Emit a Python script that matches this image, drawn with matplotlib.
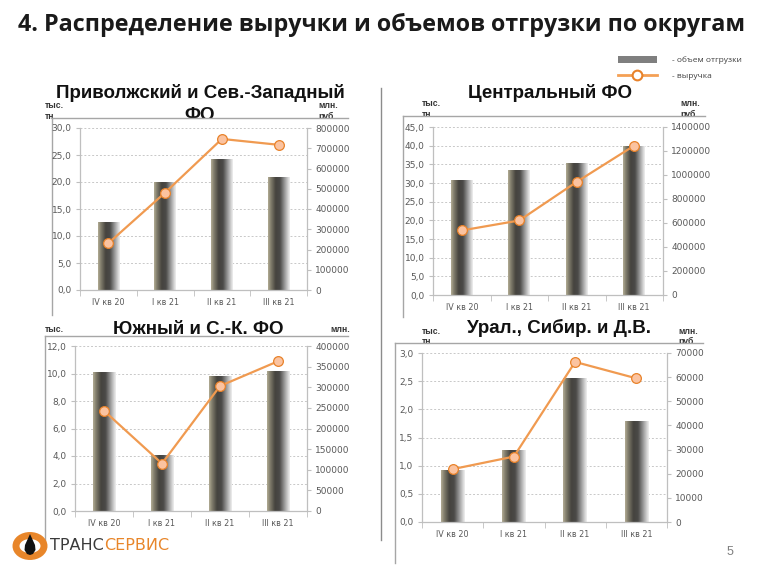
import numpy as np
import matplotlib
matplotlib.use("Agg")
import matplotlib.pyplot as plt
from matplotlib.colors import LinearSegmentedColormap
from matplotlib.patches import Rectangle, Circle, Polygon
from matplotlib.lines import Line2D
from matplotlib.text import Annotation
from matplotlib.ticker import FuncFormatter, MultipleLocator, FixedLocator

W, H = 768, 576

quarters = ["IV кв 20", "I кв 21", "II кв 21", "III кв 21"]

main_title = "4. Распределение выручки и объемов отгрузки по округам"
panel_titles = ["Приволжский и Сев.-Западный\nФО", "Центральный ФО",
                "Южный и С.-К. ФО", "Урал., Сибир. и Д.В."]

volume_privolzh = [12.6, 20.0, 24.3, 21.0]
revenue_privolzh = [231000, 481000, 746000, 717000]
volume_central = [30.7, 33.4, 35.3, 40.0]
revenue_central = [538000, 621000, 943000, 1245000]
volume_south = [10.1, 4.1, 9.8, 10.2]
revenue_south = [243000, 115000, 303000, 363000]
volume_ural = [0.93, 1.27, 2.55, 1.79]
revenue_ural = [21900, 27100, 66300, 59500]

left_max = [30, 45, 12, 3]
left_step = [5, 5, 2, 0.5]
right_max = [800000, 1400000, 400000, 70000]
right_step = [100000, 200000, 50000, 10000]

legend_labels = ["- объем отгрузки", "- выручка"]
unit_left = ["тыс.", "тн"]
unit_right = ["млн.", "руб."]

fig = plt.figure(figsize=(W / 100, H / 100), dpi=100)
fig.patch.set_facecolor("white")


def fx(x):
    return x / W


def fy(y):
    return 1 - y / H


def add_axes_px(l, t, r, b):
    return fig.add_axes([l / W, 1 - b / H, (r - l) / W, (b - t) / H])


def fline(xs, ys, color="#a6a6a6", lw=1.0, z=1.6):
    fig.add_artist(Line2D([fx(x) for x in xs], [fy(y) for y in ys],
                          transform=fig.transFigure, color=color, lw=lw, zorder=z))


def frect(l, t, r, b, fc="white", ec="none", z=1.5, lw=1.0):
    fig.add_artist(Rectangle((fx(l), fy(b)), (r - l) / W, (b - t) / H,
                             transform=fig.transFigure, facecolor=fc, edgecolor=ec,
                             zorder=z, lw=lw))


# main title
fig.text(fx(18), fy(25), main_title, fontsize=16.75, fontweight="bold",
         family="Open Sans", color="#1a1a1a", ha="left", va="center", zorder=3)

# legend
fig.add_artist(Rectangle((fx(618), fy(63)), 39 / W, 7 / H, transform=fig.transFigure,
                         facecolor="#7f7f7f", edgecolor="none", zorder=3))
fig.text(fx(672), fy(60), legend_labels[0], fontsize=6, family="Open Sans",
         color="#404040", ha="left", va="center")
fig.add_artist(Line2D([fx(618), fx(657)], [fy(75), fy(75)], transform=fig.transFigure,
                      color="#f4a055", lw=2, zorder=3))
fig.add_artist(Line2D([fx(637)], [fy(75)], transform=fig.transFigure, marker="o",
                      markersize=7, markerfacecolor="white", markeredgecolor="#e8822a",
                      markeredgewidth=1.5, zorder=3.1))
fig.text(fx(672), fy(76), legend_labels[1], fontsize=6, family="Open Sans",
         color="#404040", ha="left", va="center")

# panel layout (pixels)
axes_px = [(80, 128, 307, 290), (433, 127, 663, 295), (75, 346, 307, 511), (422, 353, 667, 522)]
frames = [(52, 118, 348, 315), (403, 116, 705, 317), (45, 336, 348, 540), (395, 343, 703, 563)]
title_pos = [(200, 93), (550, 93), (198, 329), (559, 328)]
unit_l_x = [45, 422, 45, 422]
unit_r_x = [318, 680, 330, 678]

volumes = [volume_privolzh, volume_central, volume_south, volume_ural]
revenues = [revenue_privolzh, revenue_central, revenue_south, revenue_ural]

# separator
fline([381, 381], [88, 540], color="#8c8c8c", lw=1.0, z=1.7)

cyl = LinearSegmentedColormap.from_list(
    "cyl", [(0.0, "#b5ae96"), (0.12, "#85816f"), (0.35, "#45433e"),
            (0.55, "#4b4a48"), (0.8, "#a8a8a8"), (1.0, "#f2f2f2")])
grad = np.linspace(0, 1, 256).reshape(1, -1)

grid_c = "#c8c8c8"
spine_c = "#bfbfbf"
tick_c = "#595959"

for i in range(4):
    l, t, r, b = frames[i]
    frect(l, t, r, b, z=1.5)
    fline([l, r], [t, t])
    fline([l, l], [t, b])

    # titles and units (second lines partly under the white chart area)
    tx, ty = title_pos[i]
    for k, line in enumerate(panel_titles[i].split("\n")):
        fig.text(fx(tx), fy(ty + 22 * k), line, fontsize=13.5, fontweight="bold",
                 family="Liberation Sans", color="#111111", ha="center", va="center",
                 zorder=1.2)
    for ux, lab in ((unit_l_x[i], unit_left), (unit_r_x[i], unit_right)):
        if i == 2:
            fig.text(fx(ux), fy(t - 7), lab[0], fontsize=6.2, fontweight="bold",
                     family="Liberation Sans", color="#333333", ha="left", va="center",
                     zorder=1.2)
        else:
            fig.text(fx(ux), fy(t - 12), lab[0], fontsize=6.2, fontweight="bold",
                     family="Liberation Sans", color="#333333", ha="left", va="center",
                     zorder=1.2)
            fig.text(fx(ux), fy(t - 1.5), lab[1], fontsize=6.2, fontweight="bold",
                     family="Liberation Sans", color="#333333", ha="left", va="center",
                     zorder=1.2)

    ax = add_axes_px(*axes_px[i])
    ax.set_zorder(2)
    x = np.arange(len(quarters))
    bars = ax.bar(x, volumes[i], width=0.38, facecolor="none", edgecolor="none", zorder=2)
    for bar in bars:
        x0 = bar.get_x()
        w = bar.get_width()
        h = bar.get_height()
        im = ax.imshow(grad, extent=(x0, x0 + w, 0, h), aspect="auto", cmap=cyl,
                       zorder=2, interpolation="bicubic")
        im.set_clip_path(bar)
    ax.set_xlim(-0.5, len(quarters) - 0.5)
    ax.set_ylim(0, left_max[i])
    ax.yaxis.set_major_locator(MultipleLocator(left_step[i]))
    ax.yaxis.set_major_formatter(FuncFormatter(lambda v, p: f"{v:.1f}".replace(".", ",")))
    ax.grid(axis="y", color=grid_c, linestyle=(0, (2, 2)), lw=0.7)
    ax.set_axisbelow(True)
    ax.set_xticks(x)
    ax.set_xticklabels(quarters)
    ax.xaxis.set_minor_locator(FixedLocator(np.arange(-0.5, len(quarters), 1.0)))
    ax.tick_params(axis="x", which="major", length=0, labelsize=5.8, labelcolor=tick_c, pad=6)
    ax.tick_params(axis="x", which="minor", length=4, color=spine_c, direction="out")
    ax.tick_params(axis="y", length=3, color=spine_c, labelsize=6.5, labelcolor=tick_c, pad=3)
    for s in ["top", "right"]:
        ax.spines[s].set_visible(False)
    for s in ["left", "bottom"]:
        ax.spines[s].set_color(spine_c)
        ax.spines[s].set_linewidth(0.9)

    tw = ax.twinx()
    tw.set_zorder(3)
    tw.patch.set_visible(False)
    tw.plot(x, revenues[i], color="#f09a50", lw=1.6, marker="o", markersize=7,
            markerfacecolor="#fbc3a0", markeredgecolor="#e8822a", markeredgewidth=0.9)
    tw.set_ylim(0, right_max[i])
    tw.yaxis.set_major_locator(MultipleLocator(right_step[i]))
    tw.yaxis.set_major_formatter(FuncFormatter(lambda v, p: f"{int(round(v))}"))
    tw.tick_params(axis="y", length=3, color=spine_c, labelsize=6.5, labelcolor=tick_c, pad=3)
    for s in ["top", "left", "bottom"]:
        tw.spines[s].set_visible(False)
    tw.spines["right"].set_color(spine_c)
    tw.spines["right"].set_linewidth(0.9)

# logo
fig.add_artist(Circle((fx(30), fy(546)), 14 / W, transform=fig.transFigure,
                      facecolor="white", edgecolor="#e8862a", lw=5, zorder=3))
drop = Polygon([(fx(30), fy(534)), (fx(25), fy(545)), (fx(24.5), fy(550)), (fx(27), fy(554)),
                (fx(30), fy(555)), (fx(33), fy(554)), (fx(35.5), fy(550)), (fx(35), fy(545))],
               closed=True, transform=fig.transFigure, facecolor="#111111", edgecolor="none",
               zorder=3.1)
fig.add_artist(drop)
t1 = fig.text(fx(50), fy(546), "ТРАНС", fontsize=11.5, family="DejaVu Sans",
              color="#3a3a3a", ha="left", va="center", zorder=3)
fig.add_artist(Annotation("СЕРВИС", xy=(1, 0.5), xycoords=t1, fontsize=11.5,
                          family="DejaVu Sans", color="#e8862a", ha="left", va="center",
                          zorder=3))

# page number
fig.text(fx(730), fy(552), "5", fontsize=9, family="Liberation Sans", color="#7f7f7f",
         ha="center", va="center")

fig.savefig("out.png", dpi=100)
